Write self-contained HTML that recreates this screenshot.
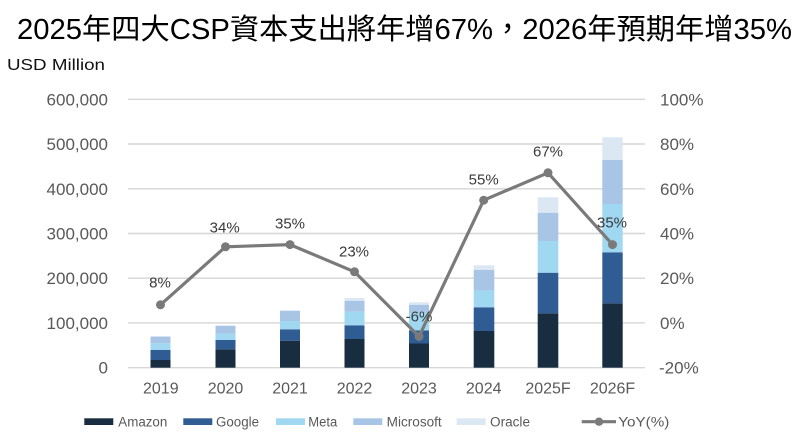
<!DOCTYPE html>
<html>
<head>
<meta charset="utf-8">
<style>
  html,body{margin:0;padding:0;background:#fff;}
  svg{display:block;}
  text{font-family:"Liberation Sans","Noto Sans CJK TC",sans-serif;}
</style>
</head>
<body>
<svg width="800" height="442" viewBox="0 0 800 442" xmlns="http://www.w3.org/2000/svg">
  <rect width="800" height="442" fill="#fff"/>
  <!-- Title -->
  <text x="17" y="39" font-size="29" fill="#000" textLength="775" lengthAdjust="spacingAndGlyphs">2025年四大CSP資本支出將年增67%，2026年預期年增35%</text>
  <text x="7" y="70" font-size="16" fill="#111" textLength="98" lengthAdjust="spacingAndGlyphs">USD Million</text>

  <!-- Gridlines -->
  <g stroke="#d6d6d6" stroke-width="1.4">
    <line x1="128" y1="99.3" x2="645" y2="99.3"/>
    <line x1="128" y1="144" x2="645" y2="144"/>
    <line x1="128" y1="188.8" x2="645" y2="188.8"/>
    <line x1="128" y1="233.5" x2="645" y2="233.5"/>
    <line x1="128" y1="278.2" x2="645" y2="278.2"/>
    <line x1="128" y1="322.9" x2="645" y2="322.9"/>
    <line x1="128" y1="367.7" x2="645" y2="367.7"/>
  </g>

  <!-- Left axis labels -->
  <g font-size="17" fill="#595959" text-anchor="end">
    <text x="108" y="105.3">600,000</text>
    <text x="108" y="150">500,000</text>
    <text x="108" y="194.8">400,000</text>
    <text x="108" y="239.5">300,000</text>
    <text x="108" y="284.2">200,000</text>
    <text x="108" y="328.9">100,000</text>
    <text x="108" y="373.7">0</text>
  </g>
  <!-- Right axis labels -->
  <g font-size="17" fill="#595959">
    <text x="660" y="105.3">100%</text>
    <text x="660" y="150">80%</text>
    <text x="660" y="194.8">60%</text>
    <text x="660" y="239.5">40%</text>
    <text x="660" y="284.2">20%</text>
    <text x="660" y="328.9">0%</text>
    <text x="659" y="373.7">-20%</text>
  </g>

  <!-- Bars -->
  <!-- 2019 center 160.5 -->
  <g>
    <rect x="150.5" y="360" width="20" height="7.7" fill="#182d3f"/>
    <rect x="150.5" y="350" width="20" height="10" fill="#305c94"/>
    <rect x="150.5" y="343.3" width="20" height="6.7" fill="#a0d8f2"/>
    <rect x="150.5" y="336.7" width="20" height="6.6" fill="#a8c5e6"/>
    <rect x="150.5" y="336" width="20" height="0.7" fill="#dce7f4"/>
  </g>
  <!-- 2020 center 225.5 -->
  <g>
    <rect x="215.5" y="349.3" width="20" height="18.4" fill="#182d3f"/>
    <rect x="215.5" y="340" width="20" height="9.3" fill="#305c94"/>
    <rect x="215.5" y="333.7" width="20" height="6.3" fill="#a0d8f2"/>
    <rect x="215.5" y="326" width="20" height="7.7" fill="#a8c5e6"/>
    <rect x="215.5" y="325.3" width="20" height="0.7" fill="#dce7f4"/>
  </g>
  <!-- 2021 center 290 -->
  <g>
    <rect x="280" y="340.7" width="20" height="27" fill="#182d3f"/>
    <rect x="280" y="329.3" width="20" height="11.4" fill="#305c94"/>
    <rect x="280" y="321" width="20" height="8.3" fill="#a0d8f2"/>
    <rect x="280" y="311" width="20" height="10" fill="#a8c5e6"/>
    <rect x="280" y="310.2" width="20" height="0.8" fill="#dce7f4"/>
  </g>
  <!-- 2022 center 354.5 -->
  <g>
    <rect x="344.5" y="339" width="20" height="28.7" fill="#182d3f"/>
    <rect x="344.5" y="325.3" width="20" height="13.7" fill="#305c94"/>
    <rect x="344.5" y="311.7" width="20" height="13.6" fill="#a0d8f2"/>
    <rect x="344.5" y="300.7" width="20" height="11" fill="#a8c5e6"/>
    <rect x="344.5" y="298" width="20" height="2.7" fill="#dce7f4"/>
  </g>
  <!-- 2023 center 419 -->
  <g>
    <rect x="409" y="343.5" width="20" height="24.2" fill="#182d3f"/>
    <rect x="409" y="330.5" width="20" height="13" fill="#305c94"/>
    <rect x="409" y="313" width="20" height="17.5" fill="#a0d8f2"/>
    <rect x="409" y="304.7" width="20" height="8.3" fill="#a8c5e6"/>
    <rect x="409" y="302.3" width="20" height="2.4" fill="#dce7f4"/>
  </g>
  <!-- 2024 center 483.7 -->
  <g>
    <rect x="473.7" y="331" width="20.6" height="36.7" fill="#182d3f"/>
    <rect x="473.7" y="307.3" width="20.6" height="23.7" fill="#305c94"/>
    <rect x="473.7" y="290.7" width="20.6" height="16.6" fill="#a0d8f2"/>
    <rect x="473.7" y="270" width="20.6" height="20.7" fill="#a8c5e6"/>
    <rect x="473.7" y="265.3" width="20.6" height="4.7" fill="#dce7f4"/>
  </g>
  <!-- 2025F center 548 -->
  <g>
    <rect x="537.7" y="313.3" width="20.6" height="54.4" fill="#182d3f"/>
    <rect x="537.7" y="272.7" width="20.6" height="40.6" fill="#305c94"/>
    <rect x="537.7" y="241" width="20.6" height="31.7" fill="#a0d8f2"/>
    <rect x="537.7" y="212.7" width="20.6" height="28.3" fill="#a8c5e6"/>
    <rect x="537.7" y="197.3" width="20.6" height="15.4" fill="#dce7f4"/>
  </g>
  <!-- 2026F center 612.5 -->
  <g>
    <rect x="602.3" y="303.3" width="20.4" height="64.4" fill="#182d3f"/>
    <rect x="602.3" y="252.3" width="20.4" height="51" fill="#305c94"/>
    <rect x="602.3" y="204" width="20.4" height="48.3" fill="#a0d8f2"/>
    <rect x="602.3" y="160" width="20.4" height="44" fill="#a8c5e6"/>
    <rect x="602.3" y="137.3" width="20.4" height="22.7" fill="#dce7f4"/>
  </g>

  <!-- X labels -->
  <g font-size="16" fill="#595959" text-anchor="middle">
    <text x="160.8" y="393.3">2019</text>
    <text x="225.5" y="393.3">2020</text>
    <text x="290" y="393.3">2021</text>
    <text x="354.5" y="393.3">2022</text>
    <text x="419" y="393.3">2023</text>
    <text x="483.7" y="393.3">2024</text>
    <text x="548" y="393.3">2025F</text>
    <text x="612.5" y="393.3">2026F</text>
  </g>

  <!-- YoY line -->
  <polyline points="160.5,304.8 225.5,246.8 290,244.6 354.5,271.8 419,336.5 483.7,200.2 548,172.8 612.5,244.6"
            fill="none" stroke="#7a7a7a" stroke-width="3.2" stroke-linejoin="round"/>
  <g fill="#7a7a7a">
    <circle cx="160.5" cy="304.8" r="4.5"/>
    <circle cx="225.5" cy="246.8" r="4.5"/>
    <circle cx="290" cy="244.6" r="4.5"/>
    <circle cx="354.5" cy="271.8" r="4.5"/>
    <circle cx="419" cy="336.5" r="4.5"/>
    <circle cx="483.7" cy="200.2" r="4.5"/>
    <circle cx="548" cy="172.8" r="4.5"/>
    <circle cx="612.5" cy="244.6" r="4.5"/>
  </g>

  <!-- Data labels -->
  <g font-size="15" fill="#3a3a3a" text-anchor="middle">
    <text x="160" y="287.7">8%</text>
    <text x="224.7" y="232.3">34%</text>
    <text x="290" y="228.3">35%</text>
    <text x="354" y="256.7">23%</text>
    <text x="419" y="321.7">-6%</text>
    <text x="483.7" y="184.3">55%</text>
    <text x="548" y="156.7">67%</text>
    <text x="612" y="227.3">35%</text>
  </g>

  <!-- Legend -->
  <g font-size="13.5" fill="#595959">
    <rect x="84.3" y="418.3" width="29" height="6.7" fill="#182d3f"/>
    <text x="118.3" y="426.7" textLength="49" lengthAdjust="spacingAndGlyphs">Amazon</text>
    <rect x="183.3" y="418.3" width="29" height="6.7" fill="#305c94"/>
    <text x="216" y="426.7" textLength="43" lengthAdjust="spacingAndGlyphs">Google</text>
    <rect x="276" y="418.3" width="29" height="6.7" fill="#a0d8f2"/>
    <text x="308.3" y="426.7" textLength="29" lengthAdjust="spacingAndGlyphs">Meta</text>
    <rect x="353.3" y="418.3" width="29" height="6.7" fill="#a8c5e6"/>
    <text x="386.7" y="426.7" textLength="55" lengthAdjust="spacingAndGlyphs">Microsoft</text>
    <rect x="456.7" y="418.3" width="29" height="6.7" fill="#dce7f4"/>
    <text x="490" y="426.7" textLength="40" lengthAdjust="spacingAndGlyphs">Oracle</text>
    <line x1="581.7" y1="421.7" x2="616" y2="421.7" stroke="#7a7a7a" stroke-width="3.2"/>
    <circle cx="599" cy="421.7" r="4.2" fill="#7a7a7a"/>
    <text x="618.3" y="426.7" textLength="51" lengthAdjust="spacingAndGlyphs">YoY(%)</text>
  </g>
</svg>
</body>
</html>
